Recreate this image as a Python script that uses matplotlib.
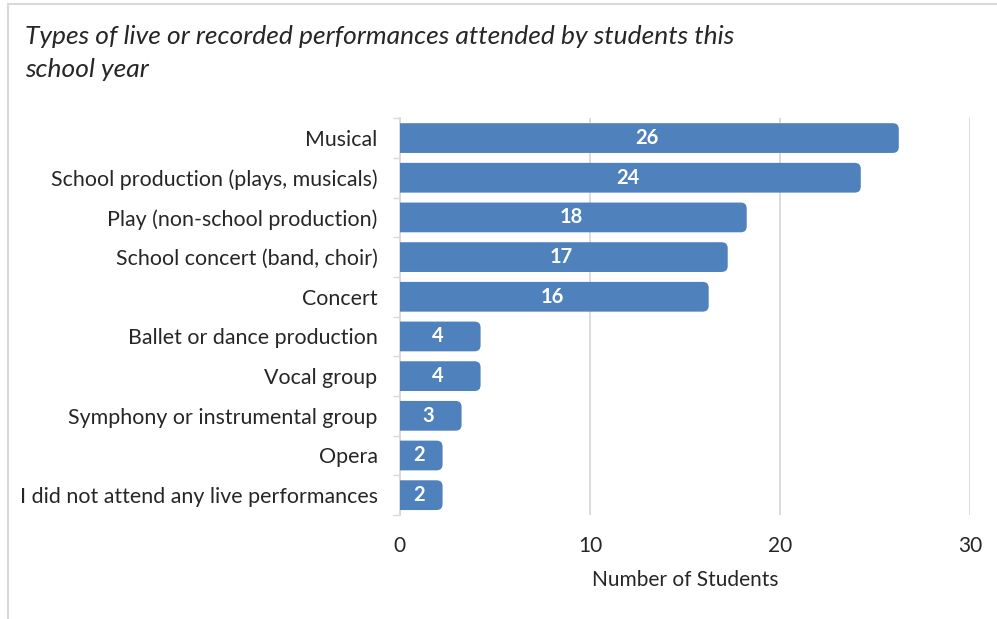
import matplotlib.pyplot as plt
from matplotlib.patches import FancyBboxPatch, Rectangle

categories = [
    "Musical",
    "School production (plays, musicals)",
    "Play (non-school production)",
    "School concert (band, choir)",
    "Concert",
    "Ballet or dance production",
    "Vocal group",
    "Symphony or instrumental group",
    "Opera",
    "I did not attend any live performances",
]
students = [26, 24, 18, 17, 16, 4, 4, 3, 2, 2]
xticks = [0, 10, 20, 30]

bar_color = "#4F81BD"
grid_color = "#D9D9D9"
text_color = "#262626"
font = ["Lato", "DejaVu Sans"]

fig = plt.figure(figsize=(9.97, 6.19), dpi=100)
ax = fig.add_axes([0.401, 0.168, 0.572, 0.641])

ypos = list(range(len(categories)))
bars = ax.barh(ypos, students, height=0.75, color=bar_color)

# swap plain rectangles for ones with rounded ends (left end hidden by clipping)
px_per_x = 0.572 * 997 / 30
px_per_y = 0.641 * 619 / len(categories)
for b in bars:
    x0, y0 = b.get_x(), b.get_y()
    w, h = b.get_width(), b.get_height()
    b.set_visible(False)
    r = 6 / px_per_x
    patch = FancyBboxPatch((x0 - 1, y0), w + 1.25, h,
                           boxstyle="round,pad=0,rounding_size=%f" % r,
                           mutation_aspect=px_per_x / px_per_y,
                           facecolor=bar_color, edgecolor="none", zorder=3)
    ax.add_patch(patch)
    patch.set_clip_on(True)
    ax.text(w / 2, b.get_y() + h / 2, str(w), ha="center", va="center",
            color="white", fontsize=14.5, fontweight="bold", family=font, zorder=4)

ax.set_xlim(0, 30)
ax.set_ylim(len(categories) - 0.5, -0.5)
ax.set_xticks(xticks)
ax.set_xticklabels([str(t) for t in xticks], fontsize=15, family=font, color=text_color)
ax.set_yticks(ypos)
ax.set_yticklabels(categories, fontsize=15.4, family=font, color=text_color)
ax.set_yticks([i - 0.5 for i in range(len(categories) + 1)], minor=True)
ax.tick_params(axis="y", which="major", length=0, pad=16)
ax.tick_params(axis="y", which="minor", length=5, color=grid_color, width=1)
ax.tick_params(axis="x", length=0, pad=15)

ax.grid(axis="x", color=grid_color, linewidth=1.3, zorder=0)
ax.set_axisbelow(True)
for side in ["top", "right", "bottom"]:
    ax.spines[side].set_visible(False)
ax.spines["left"].set_color(grid_color)
ax.spines["left"].set_linewidth(1.3)

ax.set_xlabel("Number of Students", fontsize=15, family=font, color=text_color, labelpad=10)

fig.text(0.025, 0.96, "Types of live or recorded performances attended by students this\nschool year",
         fontsize=19, style="italic", family=font, color=text_color,
         va="top", ha="left", linespacing=1.55)

# outer chart frame (runs off the right and bottom edge)
fig.patches.append(Rectangle((0.008, -0.05), 1.1, 1.043, transform=fig.transFigure,
                             fill=False, edgecolor=grid_color, linewidth=1.5))

fig.savefig("out.png", dpi=100)
